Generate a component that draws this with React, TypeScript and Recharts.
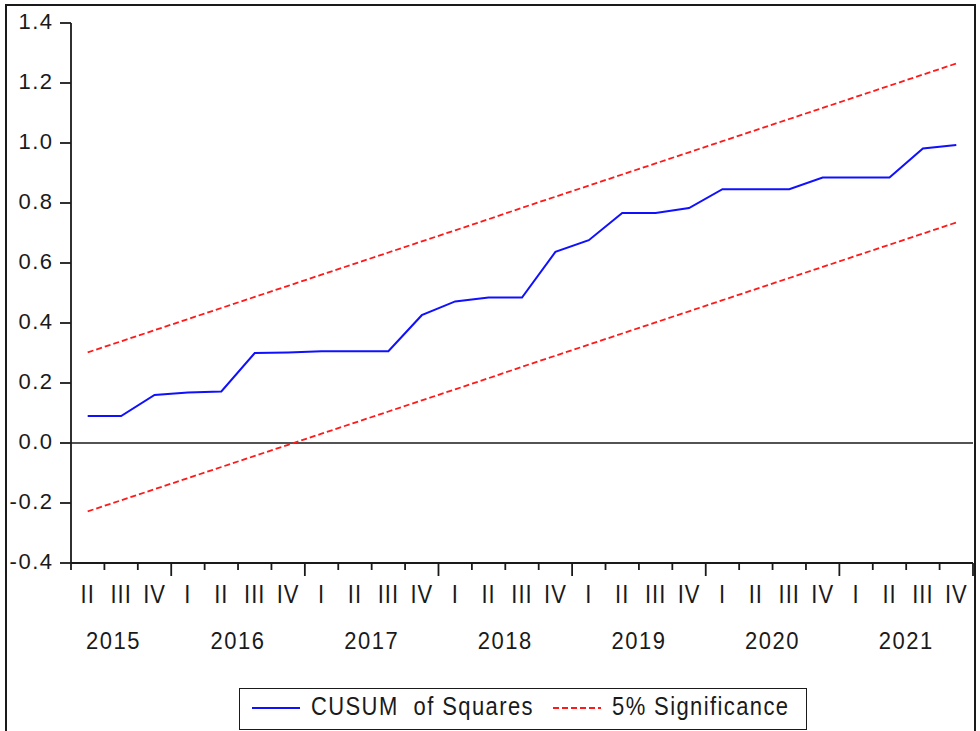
import React from 'react';
import { ComposedChart, Line, XAxis, YAxis, ReferenceLine, Legend } from 'recharts';

const quarterLabels = [
  'II', 'III', 'IV',
  'I', 'II', 'III', 'IV',
  'I', 'II', 'III', 'IV',
  'I', 'II', 'III', 'IV',
  'I', 'II', 'III', 'IV',
  'I', 'II', 'III', 'IV',
  'I', 'II', 'III', 'IV',
];

const cusumSquares = [
  0.090, 0.090, 0.160,
  0.168, 0.172, 0.300, 0.302,
  0.306, 0.306, 0.306, 0.426,
  0.472, 0.485, 0.485, 0.637,
  0.676, 0.767, 0.767, 0.783,
  0.846, 0.846, 0.846, 0.885,
  0.885, 0.885, 0.982, 0.993,
];

const upperBound = [
  0.302, 0.339, 0.376,
  0.413, 0.450, 0.487, 0.524,
  0.561, 0.598, 0.635, 0.672,
  0.709, 0.746, 0.784, 0.821,
  0.858, 0.895, 0.932, 0.969,
  1.006, 1.043, 1.080, 1.117,
  1.154, 1.191, 1.228, 1.265,
];

const lowerBound = [
  -0.228, -0.191, -0.154,
  -0.117, -0.080, -0.043, -0.006,
  0.031, 0.068, 0.105, 0.142,
  0.179, 0.216, 0.254, 0.291,
  0.328, 0.365, 0.402, 0.439,
  0.476, 0.513, 0.550, 0.587,
  0.624, 0.661, 0.698, 0.735,
];

const yearLabels = ['2015', '2016', '2017', '2018', '2019', '2020', '2021'];
const yearTickAt = [0.77, 4.5, 8.5, 12.5, 16.5, 20.5, 24.5];

const yTicks = [-0.4, -0.2, 0.0, 0.2, 0.4, 0.6, 0.8, 1.0, 1.2, 1.4];

const boundaryTicks = [
  -0.5, 0.5, 1.5, 2.5, 3.5, 4.5, 5.5, 6.5, 7.5, 8.5, 9.5, 10.5, 11.5, 12.5,
  13.5, 14.5, 15.5, 16.5, 17.5, 18.5, 19.5, 20.5, 21.5, 22.5, 23.5, 24.5, 25.5, 26.5,
];
const yearStartTicks = [2.5, 6.5, 10.5, 14.5, 18.5, 22.5, 26.5];

const seriesKeys = ['cusum', 'upper'];
const seriesNames = ['CUSUM  of Squares', '5% Significance'];

const data = quarterLabels.map((q, i) => ({
  idx: i,
  q,
  cusum: cusumSquares[i],
  upper: upperBound[i],
  lower: lowerBound[i],
}));
const centerTicks = data.map((d) => d.idx);

const FONT = "'Liberation Sans', Arial, Helvetica, sans-serif";
const INK = '#1a1a1a';

const SText = ({ x, y, anchor = 'middle', size = 22, sy = 1, ls = 1.5, children }: any) => (
  <text
    transform={`translate(${x},${y}) scale(1,${sy})`}
    textAnchor={anchor}
    fontSize={size}
    fontFamily={FONT}
    letterSpacing={ls}
    fill={INK}
    style={{ whiteSpace: 'pre' }}
  >
    {children}
  </text>
);

const BoundaryTick = (props: any) => {
  const { x, y, payload } = props;
  const major = yearStartTicks.includes(payload.value);
  return <line x1={x} x2={x} y1={y} y2={y + (major ? 13 : 7)} stroke={INK} strokeWidth={1.8} />;
};

const QuarterTick = (props: any) => {
  const { x, y, payload } = props;
  const label = quarterLabels[Math.round(payload.value)] ?? '';
  return (
    <SText x={x} y={y + 39} sy={1.15} ls={1}>
      {label}
    </SText>
  );
};

const YearTick = (props: any) => {
  const { x, y, payload } = props;
  const k = yearTickAt.indexOf(payload.value);
  return (
    <SText x={x} y={y + 84} sy={1.12} ls={1.5}>
      {yearLabels[k] ?? ''}
    </SText>
  );
};

const YTick = (props: any) => {
  const { x, y, payload } = props;
  return (
    <SText x={x + 1.5} y={y + 5.5} anchor="end" ls={1.5}>
      {Number(payload.value).toFixed(1)}
    </SText>
  );
};

const LegendBox = (props: any) => {
  const raw = (props.payload || []).filter((p: any) => p.type !== 'none');
  const items = seriesKeys
    .map((k) => raw.find((p: any) => p.dataKey === k))
    .filter(Boolean);
  const slots = [12, 313];
  return (
    <div
      style={{
        width: 568,
        height: 42,
        border: `1.8px solid ${INK}`,
        boxSizing: 'border-box',
        background: '#fff',
      }}
    >
      <svg width={564} height={38} style={{ display: 'block' }}>
        {items.map((it: any, i: number) => {
          const sx = slots[i] ?? 12 + i * 300;
          const dash = it.payload && it.payload.strokeDasharray;
          return (
            <g key={i}>
              <line
                x1={sx}
                x2={sx + 48}
                y1={19}
                y2={19}
                stroke={it.color}
                strokeWidth={2}
                strokeDasharray={dash}
              />
              <SText x={sx + 59} y={26} anchor="start" sy={1.15} ls={1.4}>
                {it.value}
              </SText>
            </g>
          );
        })}
      </svg>
    </div>
  );
};

export default function App() {
  return (
    <div
      style={{
        position: 'absolute',
        left: 0,
        top: 0,
        width: 980,
        height: 731,
        overflow: 'hidden',
        background: '#fff',
      }}
    >
      <ComposedChart
        width={980}
        height={731}
        data={data}
        margin={{ top: 23, right: 7, bottom: 165, left: 11 }}
      >
        <XAxis
          xAxisId="b"
          dataKey="idx"
          type="number"
          domain={[-0.5, 26.5]}
          allowDataOverflow
          ticks={boundaryTicks}
          interval={0}
          tickSize={0}
          tickMargin={0}
          tickLine={false}
          axisLine={{ stroke: INK, strokeWidth: 1.8 }}
          tick={(p: any) => <BoundaryTick {...p} />}
          height={1}
        />
        <XAxis
          xAxisId="q"
          dataKey="idx"
          type="number"
          domain={[-0.5, 26.5]}
          allowDataOverflow
          ticks={centerTicks}
          interval={0}
          tickSize={0}
          tickMargin={0}
          tickLine={false}
          axisLine={false}
          tick={(p: any) => <QuarterTick {...p} />}
          height={1}
        />
        <XAxis
          xAxisId="y"
          dataKey="idx"
          type="number"
          domain={[-0.5, 26.5]}
          allowDataOverflow
          ticks={yearTickAt}
          interval={0}
          tickSize={0}
          tickMargin={0}
          tickLine={false}
          axisLine={false}
          tick={(p: any) => <YearTick {...p} />}
          height={1}
        />
        <YAxis
          type="number"
          domain={[-0.4, 1.4]}
          allowDataOverflow
          ticks={yTicks}
          interval={0}
          width={60}
          tickSize={11}
          tickMargin={8}
          axisLine={{ stroke: INK, strokeWidth: 1.8 }}
          tickLine={{ stroke: INK, strokeWidth: 1.8 }}
          tick={(p: any) => <YTick {...p} />}
        />
        <ReferenceLine xAxisId="b" y={0} stroke={INK} strokeWidth={1.6} />
        <Line
          xAxisId="b"
          type="linear"
          dataKey="cusum"
          name={seriesNames[0]}
          stroke="#1010ff"
          strokeWidth={2}
          dot={false}
          activeDot={false}
          isAnimationActive={false}
        />
        <Line
          xAxisId="b"
          type="linear"
          dataKey="upper"
          name={seriesNames[1]}
          stroke="#ff1a1a"
          strokeWidth={1.8}
          strokeDasharray="6 3"
          dot={false}
          activeDot={false}
          isAnimationActive={false}
        />
        <Line
          xAxisId="b"
          type="linear"
          dataKey="lower"
          name={seriesNames[1]}
          legendType="none"
          stroke="#ff1a1a"
          strokeWidth={1.8}
          strokeDasharray="6 3"
          dot={false}
          activeDot={false}
          isAnimationActive={false}
        />
        <Legend
          layout="horizontal"
          verticalAlign="middle"
          align="center"
          wrapperStyle={{ left: 239, top: 688, width: 568, height: 42 }}
          content={(p: any) => <LegendBox {...p} />}
        />
      </ComposedChart>
      <div
        style={{
          position: 'absolute',
          left: 5,
          top: 4,
          width: 971,
          height: 740,
          border: `2px solid ${INK}`,
          boxSizing: 'border-box',
          pointerEvents: 'none',
        }}
      />
    </div>
  );
}
